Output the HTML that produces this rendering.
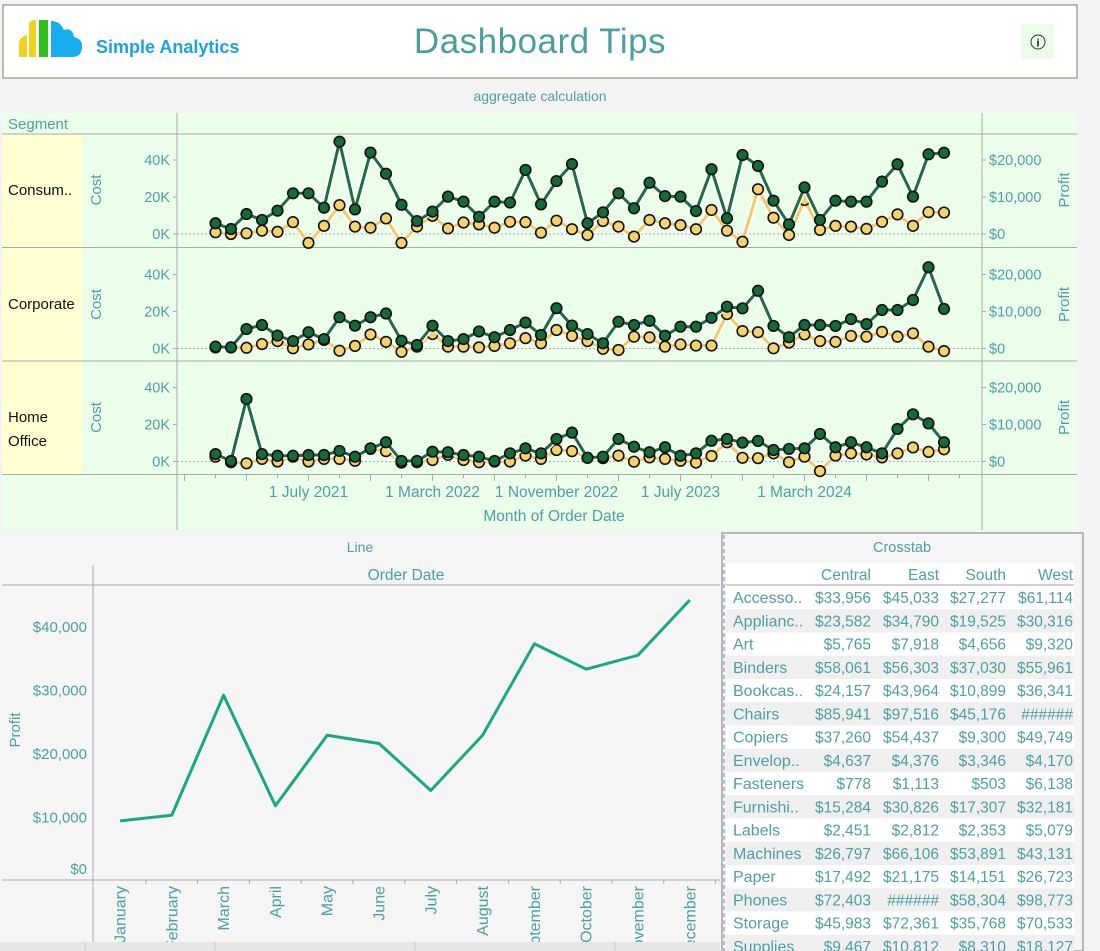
<!DOCTYPE html>
<html><head><meta charset="utf-8"><style>
html,body{margin:0;padding:0;background:#f3f3f3;}
svg{display:block;font-family:"Liberation Sans",sans-serif;}
.t{fill:#4e9fa3;}
</style></head><body>
<svg id="svg" width="1100" height="951" viewBox="0 0 1100 951" xmlns="http://www.w3.org/2000/svg">
<defs><clipPath id="clipBottom"><rect x="0" y="0" width="720" height="942"/></clipPath></defs>
<g>
<rect x="3" y="5" width="1074" height="73" fill="#fff" stroke="#aaa59a" stroke-width="1.5"/>
<g>
<path d="M19,57 V44 Q19,37 27,35 V57 Z" fill="#f0d21c"/>
<path d="M29,57 V24 Q29,20 36,20 V57 Z" fill="#f0d21c"/>
<rect x="39" y="20" width="9" height="37" fill="#2ec01a"/>
<path d="M51,57 V21 Q60,21 64,30 Q72,27 74,37 Q83,39 82,48 Q81,57 72,57 Z" fill="#17aef0"/>
</g>
<text x="96" y="53" font-size="18" font-weight="bold" fill="#1aa3e0">Simple Analytics</text>
<text x="540" y="53" font-size="35" text-anchor="middle" fill="#4a9e9e" letter-spacing="0.5">Dashboard Tips</text>
<g>
<rect x="1021" y="24" width="33" height="35" fill="#eafde8"/>
<circle cx="1038" cy="42" r="7" fill="none" stroke="#333" stroke-width="1"/>
<text x="1038" y="46.5" font-size="11" text-anchor="middle" fill="#111" font-weight="bold">i</text>
</g>
</g>
<text x="540" y="101" font-size="14" text-anchor="middle" class="t">aggregate calculation</text>
<g id="topChart">
<rect x="2" y="113" width="1075" height="417" fill="#ebfeea"/>
<rect x="2" y="134" width="80" height="340" fill="#ffffd2"/>
<line x1="177" y1="113" x2="177" y2="530" stroke="#aaa" stroke-width="1"/>
<line x1="982" y1="113" x2="982" y2="530" stroke="#aaa" stroke-width="1"/>
<line x1="2" y1="134" x2="1077" y2="134" stroke="#aaa"/>
<line x1="2" y1="247.5" x2="1077" y2="247.5" stroke="#aaa"/>
<line x1="2" y1="361" x2="1077" y2="361" stroke="#aaa"/>
<line x1="2" y1="474.5" x2="1077" y2="474.5" stroke="#aaa"/>
<text x="8" y="129" font-size="15" class="t">Segment</text>
<text x="8" y="195" font-size="15" fill="#111">Consum..</text>
<text x="8" y="309" font-size="15" fill="#111">Corporate</text>
<text x="8" y="422" font-size="15" fill="#111">Home</text>
<text x="8" y="446" font-size="15" fill="#111">Office</text>
<text x="554" y="521" font-size="15.5" text-anchor="middle" class="t">Month of Order Date</text>
</g>
<g>
<rect x="0" y="533" width="720" height="409" fill="#f5f5f5"/>
<text x="360" y="552" font-size="14" text-anchor="middle" class="t">Line</text>
<text x="406" y="580" font-size="15.5" text-anchor="middle" class="t">Order Date</text>
<line x1="2" y1="585" x2="720" y2="585" stroke="#aaa"/>
<line x1="93" y1="565" x2="93" y2="942" stroke="#aaa"/>
<line x1="2" y1="880" x2="720" y2="880" stroke="#aaa"/>
<text transform="translate(20,730) rotate(-90)" font-size="15" text-anchor="middle" class="t">Profit</text>
<g id="lineChart" clip-path="url(#clipBottom)"></g>
</g>
<rect x="0" y="942" width="720" height="9" fill="#e6e6e6"/>
<line x1="85" y1="942" x2="85" y2="951" stroke="#ccc"/>
<line x1="215" y1="942" x2="215" y2="951" stroke="#ccc"/>
<line x1="415" y1="942" x2="415" y2="951" stroke="#ccc"/>
<line x1="615" y1="942" x2="615" y2="951" stroke="#ccc"/>
<g id="crosstab">
<rect x="722" y="533" width="361" height="418" fill="#f5f5f5" stroke="#b8b8b8" stroke-width="2"/>
<line x1="724" y1="535" x2="724" y2="951" stroke="#b6bcd0" stroke-width="2" stroke-dasharray="4,3"/>
<text x="902" y="552" font-size="14.5" text-anchor="middle" class="t">Crosstab</text>
</g>
</svg>
<script>
const months = ['Jan 2021','Feb 2021','Mar 2021','Apr 2021','May 2021','Jun 2021','Jul 2021','Aug 2021','Sep 2021','Oct 2021','Nov 2021','Dec 2021','Jan 2022','Feb 2022','Mar 2022','Apr 2022','May 2022','Jun 2022','Jul 2022','Aug 2022','Sep 2022','Oct 2022','Nov 2022','Dec 2022','Jan 2023','Feb 2023','Mar 2023','Apr 2023','May 2023','Jun 2023','Jul 2023','Aug 2023','Sep 2023','Oct 2023','Nov 2023','Dec 2023','Jan 2024','Feb 2024','Mar 2024','Apr 2024','May 2024','Jun 2024','Jul 2024','Aug 2024','Sep 2024','Oct 2024','Nov 2024','Dec 2024'];
const segments = ['Consumer','Corporate','Home Office'];
const costConsumer = [5.8,2.7,10.8,7.6,12.6,22,22,14.2,49.9,13.3,44,32.6,15.8,7,12.1,20.2,17.5,9.3,17.5,17,34.6,16,28.6,37.8,5.8,11.7,22,13.9,27.7,20.5,20.2,12.4,35,8.5,42.7,36.8,18,5.2,25.2,7.6,18,17.5,17.5,28.3,37.7,20.2,43.1,43.9];
const costCorporate = [1,0.6,10.5,12.7,7,4,8.8,5.1,16.9,12.3,16.9,18.9,4.2,1.9,12.3,4,5.1,9.2,6.1,10,14,7.3,21.8,12.4,7.8,2.8,14.5,12.7,15,6.9,11.8,11.8,16.6,22.6,21.7,31.2,12.2,6.1,12.7,12.7,12.2,15.9,13.2,20.8,20.8,26.2,43.9,21.4];
const costHome = [4,0.3,33.8,4,3.1,3.1,3.5,3.5,5.7,2.6,7.1,10.4,0.3,0.3,5.3,5,3.5,2.6,0.3,4.4,7.1,4.4,12.2,15.6,2,2.6,12.2,8,5,7.7,3.1,4.4,11.2,12.2,10.2,11.1,6.2,6.8,7.1,14.9,7.7,10.4,7.7,4.4,17.6,25.5,20.6,10.4];
const profitConsumer = [0.46,0,0.19,0.9,0.6,3.2,-2.4,2.2,7.8,2,1.7,4.2,-2.4,2,4.9,1.5,3.1,2.6,1.7,3.3,3.2,0.35,3.6,1.3,-0.27,3.5,2,-0.7,3.8,2.9,2.4,1.3,6.5,0.9,-2.1,12.1,4.4,-0.27,9.2,1.1,2.2,2,1.4,3.3,5.3,2.2,5.9,5.8];
const profitCorporate = [0.3,0.3,0.2,1.2,2,0.05,1.1,2.3,-0.6,0.7,3.8,1.8,-0.9,0.5,3.9,0.5,0.5,0.3,0.7,1.4,2.8,1.4,5,3.4,2,-0.1,-0.4,3.2,3,0.5,1.1,0.8,0.8,9.3,4.7,4.4,0.05,1.6,3.8,2,1.8,3.4,3.2,4.5,3.2,4.1,0.5,-0.7];
const profitHome = [1.3,-0.2,-0.5,0.7,0,1.3,0,0.7,0.7,0.2,3.4,2.8,-0.3,-0.2,0.4,1.8,0.4,-0.2,0,0,1.6,0.7,3.1,2.8,1,0.9,1.6,-0.05,1.1,0.7,0.2,-0.3,1.5,5.2,1,0.9,2.2,-0.2,1.3,-2.6,1.6,2.2,1.9,1.1,2.2,3.8,2.6,3.3];
const costTicks = ['0K','20K','40K'];
const costTickValues = [0,20,40];
const profitTicks = ['$0','$10,000','$20,000'];
const profitTickValues = [0,10,20];
const xTickLabels = ['1 July 2021','1 March 2022','1 November 2022','1 July 2023','1 March 2024'];
const xTickIndex = [6,14,22,30,38];

const monthNames = ['January','February','March','April','May','June','July','August','September','October','November','December'];
const monthProfit = [9300,10200,29100,11700,22800,21500,14100,22800,37200,33200,35400,44100];
const lineTicks = ['$0','$10,000','$20,000','$30,000','$40,000'];
const lineTickValues = [0,10000,20000,30000,40000];

const subCats = ['Accesso..','Applianc..','Art','Binders','Bookcas..','Chairs','Copiers','Envelop..','Fasteners','Furnishi..','Labels','Machines','Paper','Phones','Storage','Supplies'];
const regions = ['Central','East','South','West'];
const colCentral = ['$33,956','$23,582','$5,765','$58,061','$24,157','$85,941','$37,260','$4,637','$778','$15,284','$2,451','$26,797','$17,492','$72,403','$45,983','$9,467'];
const colEast = ['$45,033','$34,790','$7,918','$56,303','$43,964','$97,516','$54,437','$4,376','$1,113','$30,826','$2,812','$66,106','$21,175','######','$72,361','$10,812'];
const colSouth = ['$27,277','$19,525','$4,656','$37,030','$10,899','$45,176','$9,300','$3,346','$503','$17,307','$2,353','$53,891','$14,151','$58,304','$35,768','$8,310'];
const colWest = ['$61,114','$30,316','$9,320','$55,961','$36,341','######','$49,749','$4,170','$6,138','$32,181','$5,079','$43,131','$26,723','$98,773','$70,533','$18,127'];

const NS='http://www.w3.org/2000/svg';
const svg=document.getElementById('svg');
function mk(tag,attrs,parent,text){const e=document.createElementNS(NS,tag);for(const k in attrs)e.setAttribute(k,attrs[k]);if(text!==undefined)e.textContent=text;(parent||svg).appendChild(e);return e;}

const topG=document.getElementById('topChart');
const xTop=i=>215.5+15.5*i;
const baselines=[234,348.5,461.5];
const costSeries=[costConsumer,costCorporate,costHome];
const profitSeries=[profitConsumer,profitCorporate,profitHome];
const segKeys=['consumer','corporate','home-office'];
const costPx=1.85, profitPx=3.7;
function drawSeries(vals,yf,color,fill,name){
  const pts=vals.map((v,i)=>xTop(i).toFixed(1)+','+yf(v).toFixed(1)).join(' ');
  const halo=mk('polyline',{points:pts,fill:'none',stroke:'#fff','stroke-width':6,'stroke-linejoin':'round'},topG);
  
  
  const ln=mk('polyline',{points:pts,fill:'none',stroke:color,'stroke-width':3,'stroke-linejoin':'round'},topG);
  
  
  vals.forEach((v,i)=>{
    const c=mk('circle',{cx:xTop(i),cy:yf(v),r:5.3,fill:fill,stroke:'#111','stroke-width':1.6},topG);
    
    
  });
}
segments.forEach((s,k)=>{
  const b=baselines[k];
  const yc=v=>b-v*costPx, yp=v=>b-v*profitPx;
  const zl=mk('line',{x1:177,x2:982,y1:b,y2:b,stroke:'#999','stroke-width':0.8,'stroke-dasharray':'2,2'},topG);
  
  
  costTickValues.forEach((v,j)=>{
    mk('line',{x1:173,x2:177,y1:yc(v),y2:yc(v),stroke:'#aaa'},topG);
    const t=mk('text',{x:170,y:yc(v)+5,'font-size':14.5,'text-anchor':'end',class:'t'},topG,costTicks[j]);
    
    
  });
  profitTickValues.forEach((v,j)=>{
    mk('line',{x1:982,x2:986,y1:yp(v),y2:yp(v),stroke:'#aaa'},topG);
    const t=mk('text',{x:989,y:yp(v)+5,'font-size':14.5,class:'t'},topG,profitTicks[j]);
    
    
  });
  const ct=mk('text',{transform:`translate(101,${b-44}) rotate(-90)`,'font-size':15,'text-anchor':'middle',class:'t'},topG,'Cost');
  
  
  const pt=mk('text',{transform:`translate(1069,${b-44}) rotate(-90)`,'font-size':15,'text-anchor':'middle',class:'t'},topG,'Profit');
  
  
  drawSeries(profitSeries[k],yp,'#f2cb68','#f6d26e',segKeys[k]+'-profit');
  drawSeries(costSeries[k],yc,'#1c6e42','#166a3a',segKeys[k]+'-cost');
});
for(let i=-2;i<=48;i+=2){
  const long=((i+2)%4===0);
  mk('line',{x1:xTop(i),x2:xTop(i),y1:474.5,y2:long?481:478,stroke:'#aaa'},topG);
}
xTickLabels.forEach((l,j)=>{
  const t=mk('text',{x:xTop(xTickIndex[j]),y:497,'font-size':15.5,'text-anchor':'middle',class:'t'},topG,l);
  
  
});

const lg=document.getElementById('lineChart');
const xL=i=>120+51.8*i;
const yL=v=>880-v*0.00635;
lineTickValues.forEach((v,j)=>{
  const y=Math.min(yL(v),868);
  const t=mk('text',{x:87,y:y+6,'font-size':15,'text-anchor':'end',class:'t'},lg,lineTicks[j]);
  
  
});
monthNames.forEach((m,i)=>{
  mk('line',{x1:94+51.8*(i+1),x2:94+51.8*(i+1),y1:880,y2:884,stroke:'#aaa'},lg);
  const t=mk('text',{transform:`translate(${xL(i)+5.5},886) rotate(-90)`,'font-size':16,'text-anchor':'end',class:'t'},lg,m);
  
  
});
const lp=mk('polyline',{points:monthProfit.map((v,i)=>xL(i)+','+yL(v)).join(' '),fill:'none',stroke:'#1aa883','stroke-width':3,'stroke-linejoin':'round'},lg);



const cg=document.getElementById('crosstab');
const colRight=[871,939,1006,1073];
const cols=[colCentral,colEast,colSouth,colWest];
mk('rect',{x:726,y:563,width:348,height:21,fill:'#fff'},cg);
mk('line',{x1:726,x2:1074,y1:585,y2:585,stroke:'#aaa'},cg);
regions.forEach((r,j)=>{
  const t=mk('text',{x:colRight[j],y:580,'font-size':15.5,'text-anchor':'end',class:'t'},cg,r);
  
  
});
subCats.forEach((s,i)=>{
  const y=586+23.25*i;
  mk('rect',{x:726,y:y,width:348,height:23.25,fill:i%2?'#efefef':'#fff'},cg);
  const t=mk('text',{x:733,y:y+17,'font-size':16,class:'t'},cg,s);
  
  
  cols.forEach((c,j)=>{
    const v=mk('text',{x:colRight[j],y:y+17,'font-size':15.5,'text-anchor':'end',class:'t'},cg,c[i]);
    
    
  });
});
</script>
</body></html>
